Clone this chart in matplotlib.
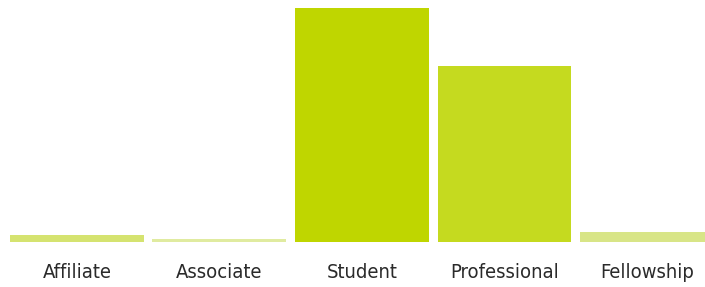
import matplotlib.pyplot as plt

categories = ["Affiliate", "Associate", "Student", "Professional", "Fellowship"]
members = [35, 15, 1170, 880, 50]
bar_colors = ["#d5e370", "#e0eba0", "#bfd600", "#c5da1f", "#d8e587"]

fig = plt.figure(figsize=(7.05, 2.87), dpi=100)
ax = fig.add_axes([0, 45 / 287, 1, 242 / 287])

x = range(len(categories))
ax.bar(x, members, width=0.94, color=bar_colors)

ax.set_xlim(-0.54, 4.407)
ax.set_ylim(0, 1170 * 242 / 234)
ax.set_xticks(list(x))
ax.set_xticklabels(categories, fontsize=14.5, color="#2a2a2a",
                   family=["DejaVu Sans"], fontstretch="condensed")
ax.tick_params(axis="x", length=0, pad=15)
ax.set_yticks([])
for s in ax.spines.values():
    s.set_visible(False)

fig.savefig("out.png", dpi=100)
